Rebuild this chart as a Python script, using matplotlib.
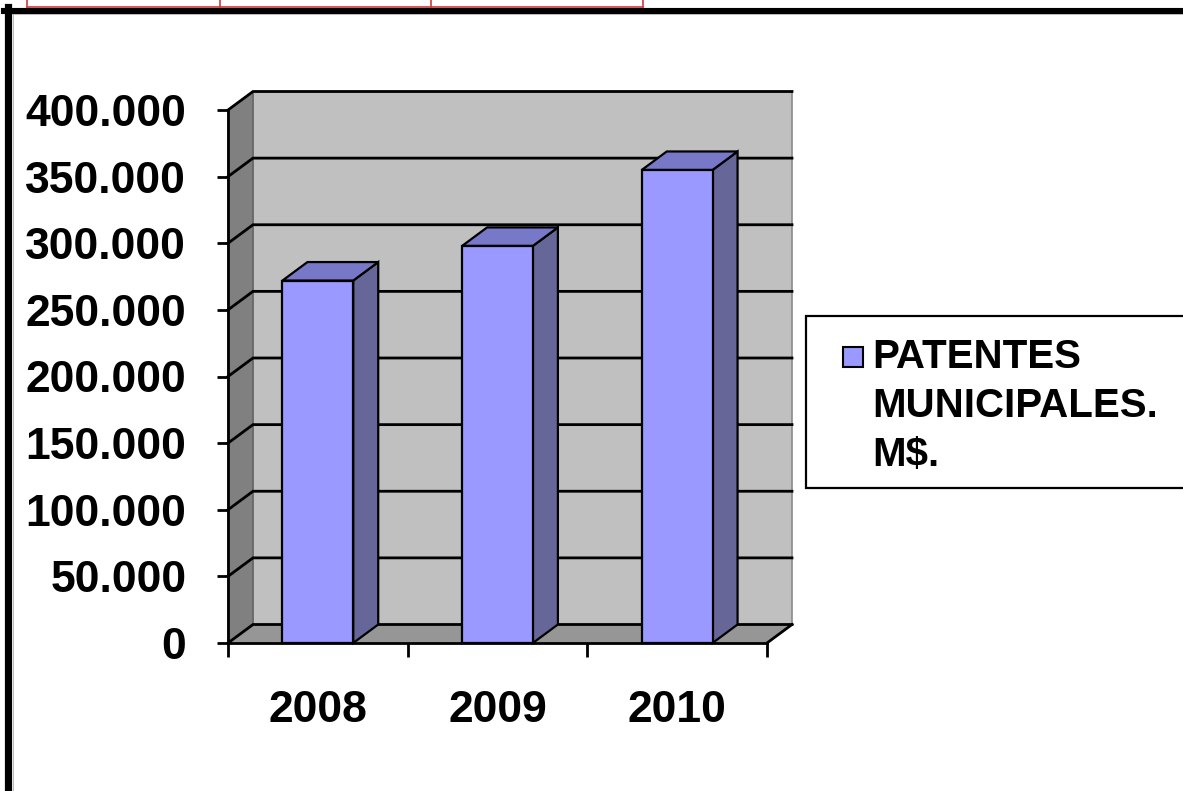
import matplotlib
matplotlib.use("Agg")
import matplotlib.pyplot as plt
from matplotlib.patches import Polygon, Rectangle
from matplotlib.lines import Line2D

# ---- data ----
years = ["2008", "2009", "2010"]
values = [272000, 298000, 355000]
y_ticks = [0, 50000, 100000, 150000, 200000, 250000, 300000, 350000, 400000]
y_tick_labels = ["0", "50.000", "100.000", "150.000", "200.000",
                 "250.000", "300.000", "350.000", "400.000"]
series_label = ["PATENTES", "MUNICIPALES.", "M$."]

# ---- styling ----
FONT = "Liberation Sans"
plt.rcParams["font.family"] = [FONT, "DejaVu Sans"]
plt.rcParams["font.weight"] = "bold"

W, H = 1183, 791
fig = plt.figure(figsize=(W / 100, H / 100), dpi=100)
fig.patch.set_facecolor("white")


def fx(x):
    return x / W


def fy(y):
    return 1 - y / H


# axes = front plane of the 3-D plot
x_left, x_right, y_zero, y_top = 228, 767, 643, 110
ax = fig.add_axes([fx(x_left), fy(y_zero), (x_right - x_left) / W, (y_zero - y_top) / H])
n = len(years)
ymax = y_ticks[-1]
ax.set_xlim(0, n)
ax.set_ylim(0, ymax)
ax.patch.set_visible(False)
for s in ["top", "right"]:
    ax.spines[s].set_visible(False)
ax.spines["left"].set_linewidth(2)
ax.spines["bottom"].set_linewidth(2)
ax.spines["left"].set_zorder(10)
ax.spines["bottom"].set_zorder(10)

# depth offset (oblique projection) in data units
px_per_x = (x_right - x_left) / n
px_per_y = (y_zero - y_top) / ymax
DX = 25 / px_per_x
DY = 18.5 / px_per_y

# walls and floor
ax.add_patch(Polygon([(DX, DY), (n + DX, DY), (n + DX, ymax + DY), (DX, ymax + DY)],
                     closed=True, facecolor="#C0C0C0", edgecolor="#8a8a8a", lw=1.2,
                     clip_on=False, zorder=1))
ax.add_patch(Polygon([(0, 0), (DX, DY), (DX, ymax + DY), (0, ymax)],
                     closed=True, facecolor="#808080", edgecolor="#606060", lw=1.0,
                     clip_on=False, zorder=1))
ax.add_patch(Polygon([(0, 0), (n, 0), (n + DX, DY), (DX, DY)],
                     closed=True, facecolor="#969696", edgecolor="none",
                     clip_on=False, zorder=1))

# gridlines on walls
for v in y_ticks:
    ax.plot([0, DX, n + DX], [v, v + DY, v + DY], color="black", lw=2,
            clip_on=False, zorder=2, solid_joinstyle="miter")
ax.plot([n, n + DX], [0, DY], color="black", lw=2, clip_on=False, zorder=2)

# bars
half = 0.197
for i, v in enumerate(values):
    x0 = i + 0.5 - half
    x1 = i + 0.5 + half
    ax.add_patch(Polygon([(x1, 0), (x1 + DX, DY), (x1 + DX, v + DY), (x1, v)], closed=True,
                         facecolor="#666699", edgecolor="black", lw=1.6,
                         clip_on=False, zorder=4, joinstyle="miter"))
    ax.add_patch(Polygon([(x0, v), (x0 + DX, v + DY), (x1 + DX, v + DY), (x1, v)], closed=True,
                         facecolor="#7878C8", edgecolor="black", lw=1.6,
                         clip_on=False, zorder=4, joinstyle="miter"))
    ax.add_patch(Rectangle((x0, 0), x1 - x0, v, facecolor="#9999FF", edgecolor="black",
                           lw=1.6, clip_on=False, zorder=5, joinstyle="miter"))

# axes ticks
ax.set_yticks(y_ticks)
ax.set_yticklabels(y_tick_labels, fontsize=32, fontweight="bold")
ax.tick_params(axis="y", direction="out", length=8, width=2, pad=22)
ax.set_xticks(range(n + 1))
ax.set_xticklabels([])
ax.tick_params(axis="x", which="major", direction="out", length=10, width=2)
ax.set_xticks([i + 0.5 for i in range(n)], minor=True)
ax.set_xticklabels(years, minor=True, fontsize=32, fontweight="bold")
ax.tick_params(axis="x", which="minor", length=0, pad=34)

# legend
fig.add_artist(Rectangle((fx(806), fy(488)), (1200 - 806) / W, (488 - 316) / H,
                         transform=fig.transFigure, facecolor="white",
                         edgecolor="black", lw=1.6, clip_on=False))
fig.add_artist(Rectangle((fx(843), fy(367)), 20 / W, 20 / H, transform=fig.transFigure,
                         facecolor="#9999FF", edgecolor="black", lw=1.5))
for k, line in enumerate(series_label):
    fig.text(fx(872), fy(368 + 49 * k), line, fontsize=29, fontweight="bold",
             va="baseline", ha="left")

# outer frame (thick black) and faint table lines above
fig.add_artist(Line2D([fx(7.5), fx(7.5)], [fy(7), fy(800)], color="black", lw=5.2,
                      transform=fig.transFigure))
fig.add_artist(Line2D([fx(4), fx(1190)], [fy(10.5), fy(10.5)], color="black", lw=4.4,
                      transform=fig.transFigure))
fig.add_artist(Line2D([fx(12.5), fx(12.5)], [fy(14), fy(800)], color="#b0b0b0", lw=0.6,
                      transform=fig.transFigure))
fig.add_artist(Line2D([fx(12), fx(1190)], [fy(14.2), fy(14.2)], color="#b0b0b0", lw=0.6,
                      transform=fig.transFigure))
red = "#D03A3A"
fig.add_artist(Line2D([fx(27), fx(643)], [fy(6.5), fy(6.5)], color=red, lw=1.2,
                      transform=fig.transFigure))
for xr in [27, 220, 431, 643]:
    fig.add_artist(Line2D([fx(xr), fx(xr)], [fy(0), fy(6.5)], color=red, lw=1.2,
                          transform=fig.transFigure))

fig.savefig("out.png", dpi=100, facecolor="white")
